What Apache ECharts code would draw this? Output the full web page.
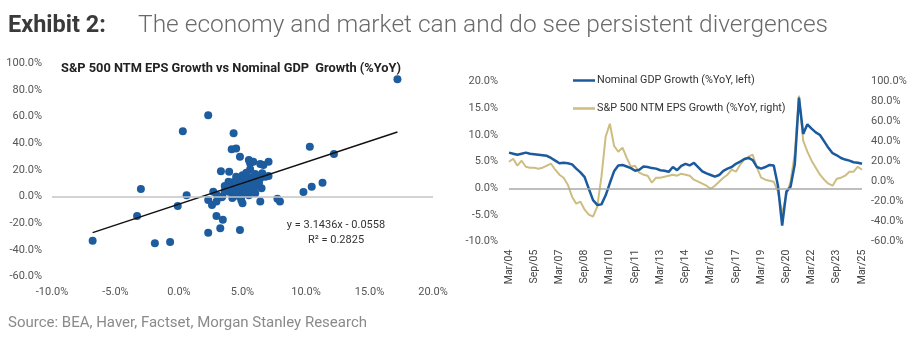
<!DOCTYPE html>
<html><head><meta charset="utf-8">
<script src="https://cdn.jsdelivr.net/npm/echarts@6/dist/echarts.min.js"></script>
<style>html,body{margin:0;padding:0;background:#fff;} #c{width:921px;height:339px;}</style>
</head><body><div id="c"></div>
<script>
// ---- Right chart: quarterly time series ----
const quarterMonths = ['Mar','Jun','Sep','Dec'];
const categories = [];
for (let y = 2004; y <= 2025; y++) {
  for (let q = 0; q < 4; q++) {
    if (y === 2025 && q > 0) break;
    categories.push(quarterMonths[q] + '/' + String(y % 100).padStart(2, '0'));
  }
}
// Nominal GDP growth, %YoY (left axis)
const gdpGrowth = [
  6.7,6.5,6.3,6.5,6.7,6.5,6.4,6.3,6.2,6.1,
  5.7,5.2,4.7,4.8,4.7,4.5,3.7,3.0,2.1,-0.1,
  -2.2,-3.1,-3.0,-1.3,1.0,3.2,4.3,4.4,4.1,3.8,
  3.3,3.5,4.1,4.0,3.8,3.7,3.4,3.3,3.1,4.0,
  3.4,4.2,4.6,4.3,4.8,4.0,3.2,2.8,2.5,2.2,
  2.5,3.3,3.7,4.0,4.6,5.0,5.5,5.7,5.3,4.0,
  3.7,4.0,4.4,4.3,0.5,-7.0,-0.6,0.3,4.5,17.0,
  10.2,12.0,11.2,10.5,10.0,8.8,7.6,6.6,6.2,5.7,
  5.4,5.2,4.9,4.8,4.6
];
// S&P 500 NTM EPS growth, %YoY (right axis)
const epsGrowth = [
  20,23,16,21,15,14,14,13,14,16,
  18,12,7,4,-3,-15,-22,-20,-28,-33,
  -35,-25,5,45,58,36,30,34,24,15,
  16,9,7,6,-1,4,4,5,6,7,
  6,8,7,6,2,0,-2,-4,-7,-4,
  0,4,7,12,10,17,22,25,27,14,
  4,2,1,0,-10,-32,-13,0,28,86,
  41,30,21,14,7,2,-2,-4,3,4,
  6,10,10,15,12
];
const leftTicks = { min: -10, max: 20, interval: 5 };
const rightTicks = { min: -60, max: 100, interval: 20 };

// ---- Left chart: scatter of EPS growth vs GDP growth ----
const scatterGdp = [
  -6.8,-3.3,-3.0,-1.9,-0.7,-0.1,0.6,0.3,2.3,4.3,
  4.15,4.5,4.8,5.5,5.85,5.6,6.4,6.65,7.05,3.3,
  3.95,5.6,6.55,6.8,7.05,6.4,3.9,3.6,2.7,5.85,
  6.5,2.3,2.6,2.95,3.35,5.0,6.4,7.75,7.95,9.8,
  10.45,11.3,10.3,12.2,17.2,2.95,3.45,3.25,2.3,4.8,
  4.3,4.7,5.05,3.9,5.7,3.4,4.0,4.5,4.9,5.3,
  5.7,6.1,4.2,4.6,5.0,5.4,5.9,6.3,4.3,4.8,
  5.2,5.6,6.0,4.5,5.0,5.3,6.0,3.6,3.0,4.2,
  4.9,5.5,6.0,4.6,5.3
];
const scatterEps = [
  -33,-14.5,5.8,-35,-34,-7,1,49,61,47.5,
  35.5,36.2,30,27.5,26.2,25,24.5,23.7,26.2,19,
  18.7,20.5,17.5,15,15.5,13.8,11.2,8,3.7,4.5,
  6.3,-2.5,-6.2,-3.7,-0.5,-5,-3.7,-1.5,-3.7,3.5,
  7.5,10.5,37.5,32,88,-14.5,-17.3,-23.7,-27,-25,
  1.3,0.5,2,3.7,3.7,0,5,5.5,5,6,
  7,8,7,8.5,9,10,11,10.5,11,12.5,
  13,14.5,14,15,16,18,17,4,1,-1,
  -2.5,1,2.5,3,4
];
const xTicks = { min: -10, max: 20, interval: 5 };
const yTicks = { min: -60, max: 100, interval: 20 };
const trendSlope = 3.1436, trendIntercept = -0.0558;

const scatterData = scatterGdp.map((x, i) => [x, scatterEps[i]]);
const xMin = Math.min(...scatterGdp), xMax = Math.max(...scatterGdp);
const trendData = [xMin, xMax].map(x => [x, trendSlope * x + trendIntercept * 100]);

const pct = v => v.toFixed(1) + '%';
const FONT = 'Roboto';
const axisLabelBase = { color: '#555', fontSize: 11, fontFamily: FONT };
const GDP_NAME = 'Nominal GDP Growth (%YoY, left)';
const EPS_NAME = 'S&P 500 NTM EPS Growth (%YoY, right)';

const chart = echarts.init(document.getElementById('c'), null, { renderer: 'canvas' });
chart.setOption({
  animation: false,
  backgroundColor: '#fff',
  textStyle: { fontFamily: FONT },
  grid: [
    { left: 52, top: 63.3, width: 381, height: 213.4 },
    { left: 509, top: 81.7, width: 353, height: 160 }
  ],
  xAxis: [
    { gridIndex: 0, type: 'value', ...xTicks,
      axisLine: { show: false }, axisTick: { show: false }, splitLine: { show: false },
      axisLabel: { ...axisLabelBase, formatter: pct, margin: 10 } },
    { gridIndex: 1, type: 'category', data: categories, boundaryGap: false,
      axisLine: { show: false }, axisTick: { show: false }, splitLine: { show: false },
      axisLabel: { ...axisLabelBase, color: '#444', fontSize: 10.5, interval: 5, rotate: 90, margin: 8 } }
  ],
  yAxis: [
    { gridIndex: 0, type: 'value', ...yTicks,
      axisLine: { show: false }, axisTick: { show: false }, splitLine: { show: false },
      axisLabel: { ...axisLabelBase, formatter: pct, margin: 10 } },
    { gridIndex: 1, type: 'value', position: 'left', ...leftTicks,
      axisLine: { show: false }, axisTick: { show: false }, splitLine: { show: false },
      axisLabel: { ...axisLabelBase, formatter: pct, margin: 11 } },
    { gridIndex: 1, type: 'value', position: 'right', ...rightTicks,
      axisLine: { show: false }, axisTick: { show: false }, splitLine: { show: false },
      axisLabel: { ...axisLabelBase, formatter: pct, margin: 9 } }
  ],
  legend: {
    orient: 'vertical', left: 568, top: 70, itemWidth: 22, itemHeight: 2.5, itemGap: 17,
    icon: 'rect',
    textStyle: { fontSize: 10.8, color: '#333', fontFamily: FONT, padding: [0, 0, 0, -3] },
    data: [GDP_NAME, EPS_NAME]
  },
  series: [
    { type: 'line', xAxisIndex: 0, yAxisIndex: 0, data: [], z: 1, silent: true,
      markLine: { silent: true, symbol: 'none', label: { show: false },
        lineStyle: { color: '#c4c4c4', width: 1.5, type: 'solid' }, data: [{ yAxis: 0 }] } },
    { name: 'scatter', type: 'scatter', xAxisIndex: 0, yAxisIndex: 0, data: scatterData,
      symbolSize: 8, itemStyle: { color: '#1d5c9e', opacity: 1 }, z: 2 },
    { name: 'trend', type: 'line', xAxisIndex: 0, yAxisIndex: 0, data: trendData,
      symbol: 'none', lineStyle: { color: '#111', width: 1.5 }, z: 3 },
    { name: EPS_NAME, type: 'line', xAxisIndex: 1, yAxisIndex: 2,
      data: epsGrowth, symbol: 'none', showSymbol: false, color: '#cdbd80',
      lineStyle: { color: '#cdbd80', width: 2 }, z: 2 },
    { name: GDP_NAME, type: 'line', xAxisIndex: 1, yAxisIndex: 1,
      data: gdpGrowth, symbol: 'none', showSymbol: false, color: '#1b5a9c',
      lineStyle: { color: '#1b5a9c', width: 2.5 }, z: 3,
      markLine: { silent: true, symbol: 'none', label: { show: false },
        lineStyle: { color: '#a9a9a9', width: 1.5, type: 'solid' }, data: [{ yAxis: 0 }] } }
  ],
  graphic: [
    { type: 'text', left: 8, top: 14, style: { text: 'Exhibit 2:', fontFamily: FONT, fontSize: 23.5, fontWeight: 'bold', fill: '#3a3a3a' } },
    { type: 'text', left: 138, top: 13, style: { text: 'The economy and market can and do see persistent divergences', fontFamily: FONT, fontSize: 24.5, fontWeight: 300, fill: '#6a6a6a' } },
    { type: 'text', left: 61, top: 62, style: { text: 'S&P 500 NTM EPS Growth vs Nominal GDP  Growth (%YoY)', fontFamily: FONT, fontSize: 12.8, fontWeight: 'bold', fill: '#222' } },
    { type: 'text', x: 336, y: 225, style: { text: 'y = 3.1436x - 0.0558', fontFamily: FONT, fontSize: 11, fill: '#333', align: 'center', verticalAlign: 'middle' } },
    { type: 'text', x: 336, y: 240, style: { text: 'R² = 0.2825', fontFamily: FONT, fontSize: 11, fill: '#333', align: 'center', verticalAlign: 'middle' } },
    { type: 'text', left: 8, top: 316, style: { text: 'Source: BEA, Haver, Factset, Morgan Stanley Research', fontFamily: FONT, fontSize: 15, fill: '#8a8a8a' } }
  ]
});
</script></body></html>
